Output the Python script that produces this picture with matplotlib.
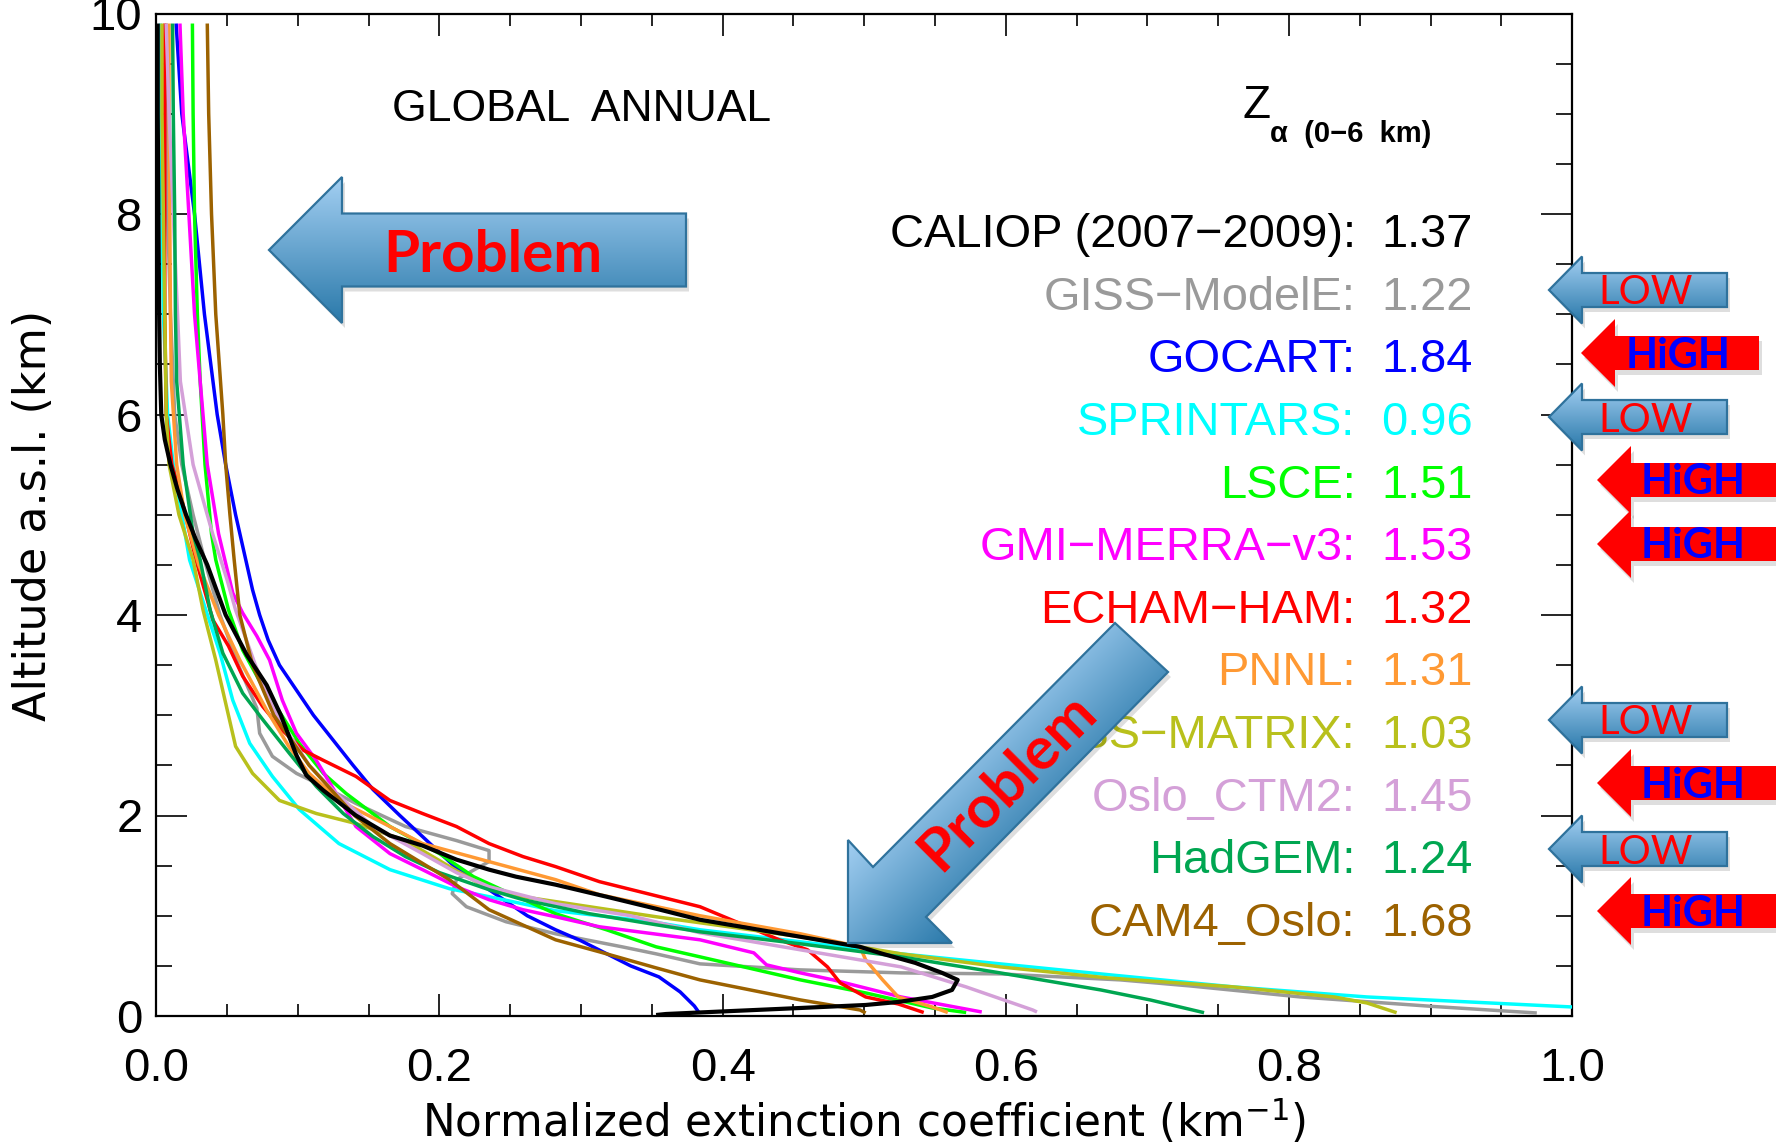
import numpy as np
import matplotlib
matplotlib.use("Agg")
import matplotlib.pyplot as plt
import matplotlib.colors as mcolors
from matplotlib.patches import Polygon
from matplotlib.ticker import MultipleLocator

plt.rcParams['font.family'] = ['Liberation Sans', 'DejaVu Sans']
plt.rcParams['mathtext.fontset'] = 'dejavusans'

# ---------------- data (altitude km, normalized extinction km^-1) ----------------
alt_caliop = [9.9, 9.0, 8.0, 7.0, 6.5, 6.0, 5.75, 5.5, 5.25, 5.0, 4.75, 4.5, 4.0, 3.6, 3.3, 3.0, 2.6, 2.4,
              2.25, 2.0, 1.8, 1.7, 1.56, 1.46, 1.39, 1.31, 1.19, 1.07, 0.96, 0.79, 0.69, 0.62, 0.53, 0.43,
              0.36, 0.26, 0.19, 0.14, 0.11, 0.08, 0.05, 0.02, 0.01]
ext_caliop = [0.001, 0.001, 0.0015, 0.002, 0.0025, 0.0035, 0.006, 0.010, 0.015, 0.021, 0.028, 0.036, 0.049,
              0.064, 0.078, 0.088, 0.099, 0.106, 0.118, 0.141, 0.165, 0.188, 0.212, 0.235, 0.254, 0.282,
              0.318, 0.353, 0.384, 0.455, 0.497, 0.513, 0.536, 0.555, 0.566, 0.562, 0.548, 0.524, 0.501,
              0.455, 0.407, 0.360, 0.353]

alt_giss = [9.9, 9.0, 8.0, 7.0, 6.0, 5.5, 5.0, 4.5, 4.0, 3.5, 3.07, 2.82, 2.59, 2.42, 2.29, 2.12, 1.89, 1.75,
            1.65, 1.54, 1.47, 1.36, 1.22, 1.09, 0.94, 0.82, 0.69, 0.62, 0.52, 0.46, 0.43, 0.42, 0.36, 0.30,
            0.19, 0.095, 0.03]
ext_giss = [0.007, 0.007, 0.008, 0.010, 0.013, 0.018, 0.026, 0.035, 0.045, 0.058, 0.071, 0.073, 0.082, 0.099,
            0.118, 0.141, 0.176, 0.212, 0.235, 0.235, 0.226, 0.212, 0.209, 0.219, 0.247, 0.282, 0.329, 0.353,
            0.384, 0.455, 0.526, 0.596, 0.681, 0.730, 0.808, 0.902, 0.975]

alt_gocart = [9.9, 9.0, 8.0, 7.0, 6.0, 5.5, 5.0, 4.5, 4.25, 4.0, 3.75, 3.5, 3.0, 2.5, 2.26, 2.0, 1.79, 1.5,
              1.26, 1.0, 0.86, 0.75, 0.5, 0.39, 0.24, 0.1, 0.04]
ext_gocart = [0.014, 0.018, 0.027, 0.034, 0.043, 0.049, 0.056, 0.064, 0.068, 0.073, 0.079, 0.087, 0.111, 0.139,
              0.153, 0.172, 0.188, 0.210, 0.235, 0.262, 0.282, 0.300, 0.335, 0.355, 0.370, 0.380, 0.383]

alt_sprintars = [9.9, 9.0, 8.0, 7.0, 6.0, 5.5, 5.0, 4.55, 4.05, 3.62, 3.15, 2.72, 2.39, 2.06, 1.72, 1.46, 1.27,
                 1.19, 1.05, 0.94, 0.86, 0.74, 0.62, 0.52, 0.41, 0.29, 0.19, 0.125, 0.09, 0.08]
ext_sprintars = [0.003, 0.003, 0.004, 0.005, 0.008, 0.012, 0.018, 0.0235, 0.035, 0.045, 0.054, 0.066, 0.082,
                 0.101, 0.129, 0.165, 0.207, 0.235, 0.282, 0.350, 0.384, 0.455, 0.526, 0.596, 0.674, 0.761,
                 0.855, 0.949, 1.0, 1.02]

alt_lsce = [9.9, 9.0, 8.0, 7.0, 6.33, 5.5, 4.81, 4.55, 4.05, 3.65, 3.29, 2.99, 2.72, 2.42, 2.22, 1.89, 1.62,
            1.39, 1.24, 1.02, 0.86, 0.69, 0.59, 0.36, 0.23, 0.08, 0.035]
ext_lsce = [0.0255, 0.026, 0.027, 0.029, 0.031, 0.0344, 0.039, 0.042, 0.051, 0.061, 0.075, 0.089, 0.101, 0.118,
            0.134, 0.165, 0.200, 0.224, 0.247, 0.282, 0.318, 0.353, 0.384, 0.455, 0.501, 0.548, 0.572]

alt_gmi = [9.9, 9.0, 8.0, 7.0, 6.33, 5.5, 4.81, 4.22, 4.02, 3.79, 3.55, 3.15, 2.82, 2.55, 2.22, 1.89, 1.62,
           1.46, 1.29, 1.16, 1.06, 0.99, 0.89, 0.76, 0.63, 0.51, 0.43, 0.36, 0.19, 0.04]
ext_gmi = [0.0167, 0.019, 0.023, 0.027, 0.031, 0.036, 0.044, 0.054, 0.061, 0.071, 0.080, 0.089, 0.099, 0.113,
           0.127, 0.141, 0.165, 0.188, 0.212, 0.235, 0.259, 0.282, 0.313, 0.384, 0.422, 0.431, 0.455, 0.478,
           0.526, 0.583]

alt_echam = [9.9, 9.0, 8.0, 7.0, 6.0, 5.5, 5.15, 4.55, 3.95, 3.69, 3.39, 3.09, 2.85, 2.65, 2.55, 2.39, 2.15,
             2.02, 1.89, 1.72, 1.59, 1.49, 1.34, 1.09, 0.76, 0.66, 0.49, 0.33, 0.19, 0.12, 0.035]
ext_echam = [0.006, 0.006, 0.006, 0.006, 0.007, 0.011, 0.018, 0.028, 0.040, 0.051, 0.061, 0.075, 0.089, 0.104,
             0.118, 0.141, 0.165, 0.188, 0.212, 0.235, 0.259, 0.282, 0.313, 0.384, 0.440, 0.460, 0.474, 0.483,
             0.501, 0.524, 0.542]

alt_pnnl = [9.9, 9.0, 8.0, 7.0, 6.33, 5.5, 5.0, 4.5, 4.0, 3.55, 3.05, 2.68, 2.42, 2.15, 1.89, 1.72, 1.54, 1.36,
            1.21, 1.0, 0.82, 0.69, 0.56, 0.36, 0.19, 0.09, 0.035]
ext_pnnl = [0.009, 0.009, 0.0095, 0.010, 0.0106, 0.0144, 0.020, 0.030, 0.044, 0.059, 0.078, 0.094, 0.108, 0.129,
            0.165, 0.188, 0.235, 0.282, 0.313, 0.384, 0.455, 0.497, 0.501, 0.513, 0.524, 0.548, 0.559]

alt_matrix = [9.9, 9.0, 8.0, 7.0, 6.0, 5.5, 5.0, 4.55, 4.05, 3.55, 3.12, 2.69, 2.42, 2.15, 2.02, 1.92, 1.75,
              1.45, 1.27, 1.19, 1.09, 0.99, 0.93, 0.79, 0.62, 0.49, 0.38, 0.29, 0.19, 0.13, 0.033]
ext_matrix = [0.004, 0.004, 0.005, 0.006, 0.007, 0.009, 0.016, 0.026, 0.033, 0.042, 0.049, 0.056, 0.068, 0.087,
              0.113, 0.141, 0.176, 0.212, 0.235, 0.259, 0.306, 0.353, 0.384, 0.455, 0.526, 0.596, 0.672,
              0.761, 0.832, 0.855, 0.876]

alt_oslo = [9.9, 9.0, 8.0, 7.0, 6.33, 5.5, 4.8, 4.35, 4.05, 3.5, 3.0, 2.5, 2.22, 1.89, 1.62, 1.43, 1.29, 1.12,
            1.0, 0.83, 0.66, 0.49, 0.29, 0.06, 0.04]
ext_oslo = [0.007, 0.009, 0.012, 0.015, 0.017, 0.026, 0.040, 0.050, 0.056, 0.070, 0.085, 0.108, 0.127, 0.153,
            0.188, 0.212, 0.235, 0.282, 0.335, 0.384, 0.455, 0.526, 0.572, 0.619, 0.622]

alt_hadgem = [9.9, 9.0, 8.0, 7.0, 6.33, 5.5, 4.81, 4.55, 4.05, 3.62, 3.22, 2.96, 2.62, 2.29, 2.02, 1.79, 1.59,
              1.43, 1.26, 1.16, 1.02, 0.91, 0.84, 0.72, 0.59, 0.43, 0.26, 0.16, 0.033]
ext_hadgem = [0.0115, 0.012, 0.013, 0.0135, 0.0144, 0.019, 0.026, 0.031, 0.038, 0.047, 0.061, 0.075, 0.094,
              0.113, 0.132, 0.153, 0.176, 0.200, 0.235, 0.259, 0.306, 0.353, 0.384, 0.455, 0.526, 0.596,
              0.667, 0.702, 0.740]

alt_cam4 = [9.9, 9.0, 8.0, 7.0, 6.0, 5.5, 5.0, 4.55, 4.0, 3.5, 3.0, 2.5, 2.0, 1.72, 1.36, 1.06, 0.76, 0.64,
            0.48, 0.36, 0.16, 0.06, 0.03]
ext_cam4 = [0.036, 0.037, 0.039, 0.042, 0.047, 0.049, 0.052, 0.055, 0.059, 0.068, 0.083, 0.108, 0.140, 0.165,
            0.207, 0.235, 0.282, 0.313, 0.353, 0.384, 0.455, 0.497, 0.501]

model_names = ["CALIOP (2007\u22122009):", "GISS\u2212ModelE:", "GOCART:", "SPRINTARS:", "LSCE:",
               "GMI\u2212MERRA\u2212v3:", "ECHAM\u2212HAM:", "PNNL:", "GISS\u2212MATRIX:", "Oslo_CTM2:",
               "HadGEM:", "CAM4_Oslo:"]
z_alpha = ["1.37", "1.22", "1.84", "0.96", "1.51", "1.53", "1.32", "1.31", "1.03", "1.45", "1.24", "1.68"]
colors = ["#000000", "#9a9a9a", "#0000ff", "#00ffff", "#00ff00", "#ff00ff", "#ff0000", "#ff9933",
          "#b8c01c", "#d4a0d8", "#00a651", "#9c6200"]

x_ticks = [0.0, 0.2, 0.4, 0.6, 0.8, 1.0]
y_ticks = [0, 2, 4, 6, 8, 10]

profiles = [(alt_caliop, ext_caliop), (alt_giss, ext_giss), (alt_gocart, ext_gocart),
            (alt_sprintars, ext_sprintars), (alt_lsce, ext_lsce), (alt_gmi, ext_gmi),
            (alt_echam, ext_echam), (alt_pnnl, ext_pnnl), (alt_matrix, ext_matrix),
            (alt_oslo, ext_oslo), (alt_hadgem, ext_hadgem), (alt_cam4, ext_cam4)]

# ---------------- figure ----------------
W, H = 1776, 1146
fig = plt.figure(figsize=(W / 100, H / 100), dpi=100)
ax_l, ax_r, ax_t, ax_b = 156.3, 1572.2, 13.5, 1016.0
ax = fig.add_axes([ax_l / W, 1 - ax_b / H, (ax_r - ax_l) / W, (ax_b - ax_t) / H])

order = list(range(1, 12)) + [0]
for i in order:
    a, e = profiles[i]
    ax.plot(e, a, color=colors[i], lw=3.0 if i == 0 else 2.5, zorder=3 + (2 if i == 0 else 0),
            solid_joinstyle='round', solid_capstyle='butt')

ax.set_xlim(0, 1.0)
ax.set_ylim(0, 10)
ax.set_xticks(x_ticks)
ax.set_xticklabels([f"{v:.1f}" for v in x_ticks])
ax.set_yticks(y_ticks)
ax.set_yticklabels([str(v) for v in y_ticks])
ax.xaxis.set_minor_locator(MultipleLocator(0.05))
ax.yaxis.set_minor_locator(MultipleLocator(0.5))
ax.tick_params(axis='x', which='major', direction='in', length=16, width=1.2, top=True, pad=22, labelsize=34)
ax.tick_params(axis='x', which='minor', direction='in', length=8.5, width=1.2, top=True)
ax.tick_params(axis='y', which='major', direction='in', length=22, width=1.2, right=True, pad=10, labelsize=34)
ax.tick_params(axis='y', which='minor', direction='in', length=11.5, width=1.2, right=True)
for s in ax.spines.values():
    s.set_linewidth(1.6)

# axis labels
fig.text(864 / W, 1 - 1121 / H, "Normalized extinction coefficient (km$^{-1}$)", ha='center', va='center',
         fontsize=31.5, family='DejaVu Sans')
fig.text(34 / W, 1 - 515 / H, "Altitude a.s.l. (km)", ha='center', va='center', rotation=90, fontsize=32,
         family='DejaVu Sans')

# in-plot texts
ax.text(0.30, 8.93, "GLOBAL  ANNUAL", ha='center', va='baseline', fontsize=32, zorder=6)
ax.text(0.7674, 8.955, "Z", ha='left', va='baseline', fontsize=33, zorder=6)
ax.text(0.7866, 8.72, "\u03b1  (0\u22126  km)", ha='left', va='baseline', fontsize=21, fontweight='bold',
        zorder=6)
for i, (nm, zv) in enumerate(zip(model_names, z_alpha)):
    yb = 7.67 - i * 0.6245
    ax.text(0.847, yb, nm, ha='right', va='baseline', fontsize=33.8, color=colors[i], zorder=6)
    ax.text(0.9296, yb, zv, ha='right', va='baseline', fontsize=33.8, color=colors[i], zorder=6)

# ---------------- overlay annotations (figure pixel coordinates) ----------------
ov = fig.add_axes([0, 0, 1, 1], zorder=10)
ov.set_xlim(0, W)
ov.set_ylim(H, 0)
ov.axis('off')
ov.patch.set_alpha(0)

LIGHT, DARK, EDGE = "#a3cff2", "#2a79aa", "#2f729c"


def grad_arrow(pts, direction, light=LIGHT, dark=DARK, edge=EDGE, lw=1.6, solid=None):
    pts = np.asarray(pts, dtype=float)
    sh = Polygon(pts + np.array([3.0, 5.0]), closed=True, fc=(0, 0, 0, 0.13), ec='none', zorder=1)
    ov.add_patch(sh)
    if solid is not None:
        ov.add_patch(Polygon(pts, closed=True, fc=solid, ec='none', zorder=2))
        return
    x0, y0 = pts.min(0)
    x1, y1 = pts.max(0)
    nx, ny = int(x1 - x0) + 2, int(y1 - y0) + 2
    gx, gy = np.meshgrid(np.linspace(x0, x1, nx), np.linspace(y0, y1, ny))
    d = np.asarray(direction, float)
    d = d / np.linalg.norm(d)
    proj = gx * d[0] + gy * d[1]
    pp = pts @ d
    t = np.clip((proj - pp.min()) / (pp.max() - pp.min()), 0, 1)
    c1 = np.array(mcolors.to_rgb(light))
    c2 = np.array(mcolors.to_rgb(dark))
    img = c1 + (c2 - c1) * t[..., None]
    im = ov.imshow(img, extent=(x0, x1, y1, y0), origin='upper', zorder=2, interpolation='bilinear',
                   aspect='auto')
    poly = Polygon(pts, closed=True, fc='none', ec=edge, lw=lw, zorder=3)
    ov.add_patch(poly)
    im.set_clip_path(poly)


def left_arrow(tip_x, cy, back_x, right_x, head_h, body_h):
    return [(tip_x, cy), (back_x, cy - head_h), (back_x, cy - body_h), (right_x, cy - body_h),
            (right_x, cy + body_h), (back_x, cy + body_h), (back_x, cy + head_h)]


# big "Problem" arrow (top left)
grad_arrow(left_arrow(269, 250, 342, 686, 73, 36.5), (0, 1))
ov.text(493, 272.5, "Problem", color='#ff0000', fontsize=42, fontweight='bold', family='Lato',
        ha='center', va='baseline', zorder=4)

# diagonal "Problem" arrow
diag = [(848, 943), (848, 840), (873, 867), (1115, 623), (1168, 672), (926, 917), (952, 943)]
grad_arrow(diag, (1, 1))
ov.text(1008, 782, "Problem", color='#ff0000', fontsize=43, fontweight='bold', family='Lato',
        ha='center', va='center', rotation=45, rotation_mode='anchor', zorder=4)

# LOW arrows
for cy in [290, 417, 720, 849]:
    grad_arrow(left_arrow(1549, cy, 1582, 1727, 33.5, 17), (0, 1))
    ov.text(1646, cy + 14.5, "LOW", color='#ff0000', fontsize=29, family='Lato', ha='center',
            va='baseline', zorder=4)

# HIGH arrows
for tip, cy, rx, tx in [(1581, 353, 1759, 1678), (1597, 480, 1790, 1693), (1597, 544, 1790, 1693),
                        (1597, 783, 1790, 1693), (1597, 911, 1790, 1693)]:
    grad_arrow(left_arrow(tip, cy, tip + 34, rx, 34, 17), (0, 1), solid='#ff0000')
    ov.text(tx, cy + 14.5, "HiGH", color='#0000ff', fontsize=30, fontweight='bold', family='Lato',
            ha='center', va='baseline', zorder=4)

ov.set_xlim(0, W)
ov.set_ylim(H, 0)

fig.savefig("out.png", dpi=100)
